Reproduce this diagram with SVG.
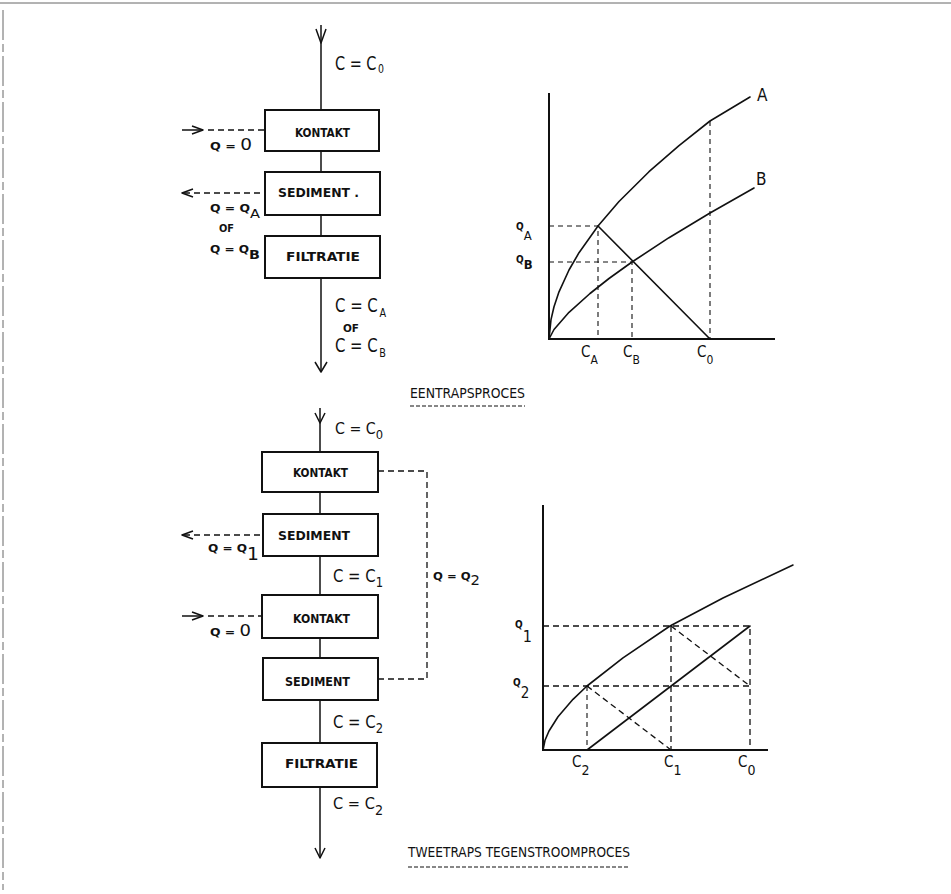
<svg xmlns="http://www.w3.org/2000/svg" width="951" height="894" viewBox="0 0 951 894">
<style>
.bg{fill:#fff}
.box{fill:#fff;stroke:#111;stroke-width:2}
.ln{stroke:#111;stroke-width:1.5;fill:none;stroke-linejoin:round}
.ax{stroke:#111;stroke-width:2;fill:none}
.cv{stroke:#111;stroke-width:1.6;fill:none;stroke-linejoin:round;stroke-linecap:round}
.ds{stroke:#111;stroke-width:1.3;fill:none;stroke-dasharray:6 4}
.dt{stroke:#111;stroke-width:1.1;fill:none;stroke-dasharray:5 4}
.ul{stroke:#111;stroke-width:1.2;fill:none;stroke-dasharray:4 2}
.frame{stroke:#666;stroke-width:1;fill:none}
text{font-family:"DejaVu Sans Condensed","DejaVu Sans",sans-serif;fill:#111}
.bl{font-size:12px;font-weight:bold}
.q{font-size:11px;font-weight:bold}
.qs{font-size:10px;font-weight:bold}
.sub{font-weight:normal}
.title{font-size:14px}
</style>
<rect class="bg" x="0" y="0" width="951" height="894"/>
<g id="frame">
<line class="frame" x1="0" y1="3" x2="951" y2="3"/>
<line class="frame" x1="3" y1="10" x2="3" y2="890" stroke-dasharray="30 4 8 4"/>
</g>

<!-- ===== EENTRAPSPROCES flow ===== -->
<g id="connectors-top">
<line class="ln" x1="321" y1="25" x2="321" y2="110"/>
<polyline class="ln" points="316,29 321,43 326,29"/>
<line class="ln" x1="321" y1="151" x2="321" y2="172"/>
<line class="ln" x1="321" y1="215" x2="321" y2="236"/>
<line class="ln" x1="321" y1="278" x2="321" y2="372"/>
<polyline class="ln" points="315,362 321,372 327,362"/>
<line class="ln" x1="182" y1="130" x2="203" y2="130"/>
<polyline class="ln" points="192,126 203,130 192,134"/>
<line class="ds" x1="208" y1="130" x2="264" y2="130"/>
<polyline class="ln" points="193,189 182,193 193,197"/>
<line class="ds" x1="184" y1="193" x2="264" y2="193"/>
</g>
<g id="kontakt-1">
<rect class="box" x="265" y="110" width="114" height="41"/>
<text class="bl" x="295" y="137" textLength="55" lengthAdjust="spacingAndGlyphs">KONTAKT</text>
</g>
<g id="sediment-1">
<rect class="box" x="265" y="172" width="115" height="43"/>
<text class="bl" x="278" y="197" textLength="81" lengthAdjust="spacingAndGlyphs">SEDIMENT .</text>
</g>
<g id="filtratie-1">
<rect class="box" x="265" y="236" width="115" height="42"/>
<text class="bl" x="286" y="261" textLength="74" lengthAdjust="spacingAndGlyphs">FILTRATIE</text>
</g>
<g id="labels-top">
<text x="335" y="70" font-size="20" textLength="49" lengthAdjust="spacingAndGlyphs">C = C<tspan dx="2" dy="3" font-size="13">0</tspan></text>
<text class="q" x="210" y="150" textLength="42" lengthAdjust="spacingAndGlyphs">Q = <tspan class="sub" font-size="16">0</tspan></text>
<text class="q" x="210" y="212" textLength="50" lengthAdjust="spacingAndGlyphs">Q = Q<tspan class="sub" dy="6" font-size="13">A</tspan></text>
<text class="q" x="219" y="232" textLength="15" lengthAdjust="spacingAndGlyphs">OF</text>
<text class="q" x="210" y="253" textLength="50" lengthAdjust="spacingAndGlyphs">Q = Q<tspan dy="6" font-size="13">B</tspan></text>
<text x="335" y="312" font-size="20" textLength="51" lengthAdjust="spacingAndGlyphs">C = C<tspan dx="2" dy="5" font-size="13">A</tspan></text>
<text class="q" x="343" y="332" textLength="16" lengthAdjust="spacingAndGlyphs">OF</text>
<text x="335" y="352" font-size="20" textLength="51" lengthAdjust="spacingAndGlyphs">C = C<tspan dx="2" dy="5" font-size="13">B</tspan></text>
</g>

<!-- ===== top chart ===== -->
<g id="chart-top">
<line class="ax" x1="549" y1="93" x2="549" y2="340"/>
<line class="ax" x1="548" y1="339" x2="775" y2="339"/>
<polyline class="cv" points="549,339 551,319.6 554,306.8 559,291.8 569,270 579,252.7 598,226 619,201.5 649,171.7 679,145.7 710,121 750,97"/>
<polyline class="cv" points="549,339 554,329.5 569,312.3 590,293.5 609,278.5 632,262 669,237.7 710,213 754,188"/>
<line class="cv" x1="598" y1="226" x2="710" y2="339"/>
<polyline class="dt" points="549,226 598,226 598,339"/>
<polyline class="dt" points="549,262 632,262 632,339"/>
<line class="dt" x1="710" y1="121" x2="710" y2="339"/>
<text class="qs" x="516" y="230">Q<tspan class="sub" dy="10" font-size="13">A</tspan></text>
<text class="qs" x="516" y="263">Q<tspan dy="6" font-size="13">B</tspan></text>
<text x="581" y="357" font-size="15">C<tspan dy="7" font-size="12">A</tspan></text>
<text x="623" y="357" font-size="15">C<tspan dy="7" font-size="12">B</tspan></text>
<text x="697" y="357" font-size="15">C<tspan dy="7" font-size="12">0</tspan></text>
<text x="757" y="101" font-size="17">A</text>
<text x="756" y="185" font-size="17">B</text>
</g>
<g id="title-top">
<text class="title" x="410" y="398" textLength="115" lengthAdjust="spacingAndGlyphs">EENTRAPSPROCES</text>
<line class="ul" x1="410" y1="406" x2="525" y2="406"/>
</g>

<!-- ===== TWEETRAPS flow ===== -->
<g id="connectors-bottom">
<line class="ln" x1="320" y1="408" x2="320" y2="452"/>
<polyline class="ln" points="315,413 320,423 325,413"/>
<line class="ln" x1="320" y1="492" x2="320" y2="514"/>
<line class="ln" x1="320" y1="556" x2="320" y2="595"/>
<line class="ln" x1="320" y1="638" x2="320" y2="658"/>
<line class="ln" x1="320" y1="700" x2="320" y2="743"/>
<line class="ln" x1="320" y1="787" x2="320" y2="858"/>
<polyline class="ln" points="315,848 320,858 325,848"/>
<polyline class="ln" points="193,531 182,535 193,539"/>
<line class="ds" x1="184" y1="535" x2="263" y2="535"/>
<line class="ln" x1="182" y1="616" x2="203" y2="616"/>
<polyline class="ln" points="192,612 203,616 192,620"/>
<line class="ds" x1="208" y1="616" x2="262" y2="616"/>
<polyline class="ds" points="378,471 427,471 427,679 378,679"/>
</g>
<g id="kontakt-2">
<rect class="box" x="262" y="452" width="116" height="40"/>
<text class="bl" x="293" y="477" textLength="55" lengthAdjust="spacingAndGlyphs">KONTAKT</text>
</g>
<g id="sediment-2">
<rect class="box" x="263" y="514" width="115" height="42"/>
<text class="bl" x="278" y="540" textLength="72" lengthAdjust="spacingAndGlyphs">SEDIMENT</text>
</g>
<g id="kontakt-3">
<rect class="box" x="262" y="595" width="116" height="43"/>
<text class="bl" x="293" y="623" textLength="57" lengthAdjust="spacingAndGlyphs">KONTAKT</text>
</g>
<g id="sediment-3">
<rect class="box" x="263" y="658" width="115" height="42"/>
<text class="bl" x="285" y="686" textLength="65" lengthAdjust="spacingAndGlyphs">SEDIMENT</text>
</g>
<g id="filtratie-2">
<rect class="box" x="262" y="743" width="115" height="44" stroke-width="2.6"/>
<text class="bl" x="285" y="768" textLength="73" lengthAdjust="spacingAndGlyphs">FILTRATIE</text>
</g>
<g id="labels-bottom">
<text x="335" y="434" font-size="16" textLength="48" lengthAdjust="spacingAndGlyphs">C = C<tspan dy="5" font-size="13">0</tspan></text>
<text class="q" x="208" y="552" textLength="51" lengthAdjust="spacingAndGlyphs">Q = Q<tspan class="sub" dy="8" font-size="17">1</tspan></text>
<text x="333" y="582" font-size="18" textLength="50" lengthAdjust="spacingAndGlyphs">C = C<tspan dy="5" font-size="14">1</tspan></text>
<text class="q" x="433" y="580" textLength="47" lengthAdjust="spacingAndGlyphs">Q = Q<tspan class="sub" dy="5" font-size="14">2</tspan></text>
<text class="q" x="210" y="636" textLength="41" lengthAdjust="spacingAndGlyphs">Q = <tspan class="sub" font-size="16">0</tspan></text>
<text x="333" y="728" font-size="18" textLength="50" lengthAdjust="spacingAndGlyphs">C = C<tspan dy="5" font-size="14">2</tspan></text>
<text x="333" y="809" font-size="16" textLength="50" lengthAdjust="spacingAndGlyphs">C = C<tspan dy="6" font-size="14">2</tspan></text>
</g>

<!-- ===== bottom chart ===== -->
<g id="chart-bottom">
<line class="ax" x1="543" y1="505" x2="543" y2="751"/>
<line class="ax" x1="542" y1="750" x2="768" y2="750"/>
<polyline class="cv" points="543,750 545,740.3 549,731 558,716.8 573,699.3 587,686 623,657.8 670,626 723,598 793,565"/>
<line class="cv" x1="587" y1="750" x2="750" y2="626"/>
<polyline class="ds" points="543,626 750,626 750,750"/>
<line class="ds" x1="671" y1="626" x2="671" y2="750"/>
<line class="ds" x1="543" y1="686" x2="750" y2="686"/>
<line class="dt" x1="587" y1="686" x2="587" y2="750" stroke-dasharray="6 3 1 3"/>
<line class="ds" x1="671" y1="626" x2="750" y2="686"/>
<line class="ds" x1="587" y1="686" x2="671" y2="750"/>
<text class="qs" x="515" y="628">Q<tspan class="sub" dy="14" font-size="16">1</tspan></text>
<text class="qs" x="513" y="686">Q<tspan class="sub" dy="12" font-size="15">2</tspan></text>
<text x="572" y="767" font-size="15">C<tspan dy="8" font-size="14">2</tspan></text>
<text x="664" y="767" font-size="15">C<tspan dy="8" font-size="14">1</tspan></text>
<text x="738" y="767" font-size="15">C<tspan dy="8" font-size="14">0</tspan></text>
</g>
<g id="title-bottom">
<text class="title" x="408" y="857" textLength="222" lengthAdjust="spacingAndGlyphs">TWEETRAPS TEGENSTROOMPROCES</text>
<line class="ul" x1="408" y1="867" x2="630" y2="867"/>
</g>
</svg>
